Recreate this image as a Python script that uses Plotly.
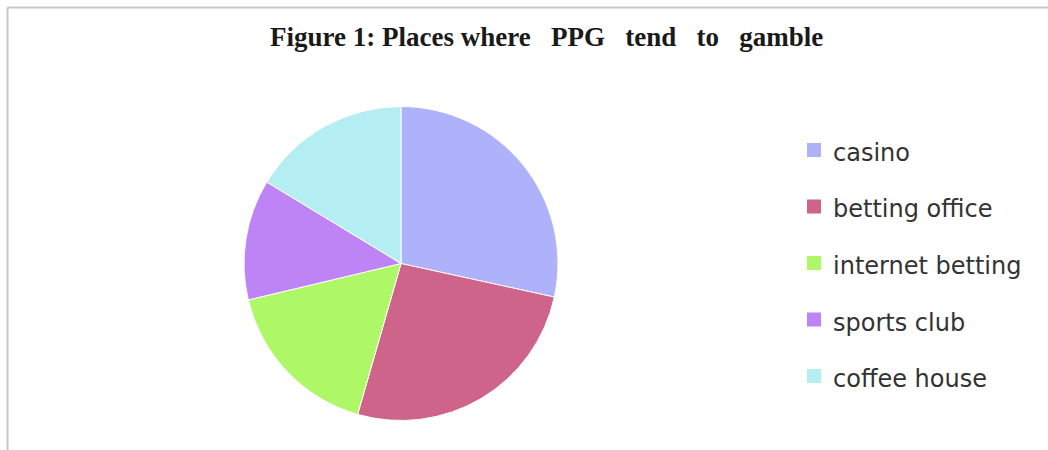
import plotly.graph_objects as go

# ---- data ----
labels = ["casino", "betting office", "internet betting", "sports club", "coffee house"]
values = [28.4, 26.0, 16.8, 12.4, 16.3]
colors = ["#ADB2FA", "#CE6489", "#AEF767", "#BE84F6", "#B5EEF2"]
title_text = "Figure 1: Places where   PPG   tend   to   gamble"

W, H = 1048, 450

fig = go.Figure()
fig.add_trace(go.Pie(
    labels=labels,
    values=values,
    sort=False,
    direction="clockwise",
    rotation=0,
    textinfo="none",
    hoverinfo="label+percent",
    marker=dict(colors=colors, line=dict(color="#FFFFFF", width=1)),
    domain=dict(x=[244 / W, 558 / W], y=[1 - 421 / H, 1 - 106 / H]),
    showlegend=False,
))

shapes = [
    # frame lines (top and left)
    dict(type="line", xref="paper", yref="paper", x0=7.5 / W, x1=1, y0=1 - 7.5 / H, y1=1 - 7.5 / H,
         line=dict(color="#C8C8C8", width=2)),
    dict(type="line", xref="paper", yref="paper", x0=7.5 / W, x1=7.5 / W, y0=0, y1=1 - 7.5 / H,
         line=dict(color="#C8C8C8", width=2)),
]
annotations = [
    dict(text="<b>" + title_text + "</b>", xref="paper", yref="paper", x=546 / W, y=1 - 37 / H,
         xanchor="center", yanchor="middle", showarrow=False,
         font=dict(family="Liberation Serif", size=27, color="#1a1a1a")),
]

# custom legend (spacing as in the reference)
leg_x, leg_y0, leg_dy, sq = 814, 150, 56.5, 14
for i, (lab, col) in enumerate(zip(labels, colors)):
    cy = leg_y0 + i * leg_dy
    shapes.append(dict(type="rect", xref="paper", yref="paper",
                       x0=(leg_x - sq / 2) / W, x1=(leg_x + sq / 2) / W,
                       y0=1 - (cy + sq / 2) / H, y1=1 - (cy - sq / 2) / H,
                       fillcolor=col, line=dict(width=0)))
    annotations.append(dict(text=lab, xref="paper", yref="paper", x=831 / W, y=1 - (cy + 3) / H,
                            xanchor="left", yanchor="middle", showarrow=False,
                            font=dict(family="DejaVu Sans", size=24, color="#333333")))

fig.update_layout(
    width=W, height=H,
    margin=dict(l=0, r=0, t=0, b=0),
    paper_bgcolor="#FFFFFF",
    plot_bgcolor="#FFFFFF",
    shapes=shapes,
    annotations=annotations,
)

fig.write_html("out.html", config={"displayModeBar": False},
               post_script="document.body.style.margin='0';")
